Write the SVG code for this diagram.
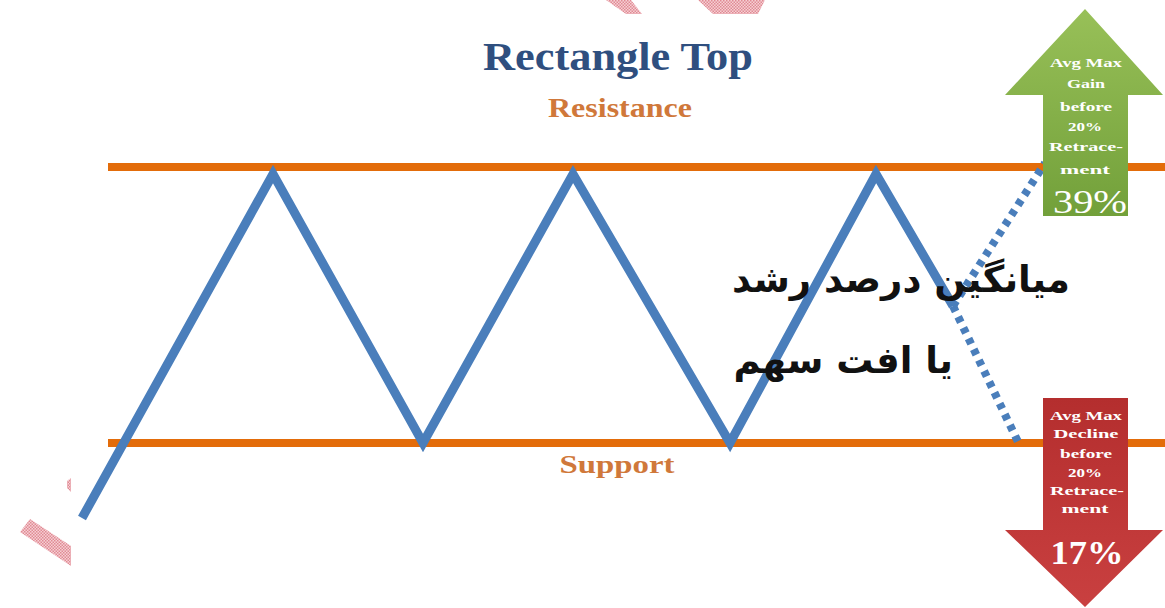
<svg xmlns="http://www.w3.org/2000/svg" width="1165" height="608" viewBox="0 0 1165 608">
<style>
.lvl{stroke:#e36c0a;stroke-width:8;fill:none}
.zig{stroke:#4a7ebb;stroke-width:9;fill:none;stroke-linejoin:miter;stroke-linecap:butt}
.dot{stroke:#4a7ebb;stroke-width:8;fill:none;stroke-dasharray:6 6}
.lbl{font-family:"Liberation Serif",serif;font-weight:bold;fill:#d0783a}
.arr{font-family:"Liberation Serif",serif;font-weight:bold;fill:#ffffff;text-anchor:middle;font-size:13.5px}
.big{font-family:"Liberation Serif",serif;fill:#ffffff;text-anchor:middle;font-size:33px}
.fa{font-family:"DejaVu Sans",sans-serif;font-weight:bold;fill:#111111;font-size:37px}
.wm{fill:url(#hatch)}
</style>
<defs>
<pattern id="hatch" width="3" height="3" patternUnits="userSpaceOnUse">
<rect width="3" height="3" fill="#f6d0d4"/>
<rect width="1.5" height="1.5" fill="#e08a94"/>
<rect x="1.5" y="1.5" width="1.5" height="1.5" fill="#e08a94"/>
</pattern>
<linearGradient id="gUp" x1="0" y1="0" x2="0" y2="1">
<stop offset="0" stop-color="#98c058"/>
<stop offset="1" stop-color="#72a03a"/>
</linearGradient>
<linearGradient id="gDn" x1="0" y1="0" x2="0" y2="1">
<stop offset="0" stop-color="#b42e2e"/>
<stop offset="1" stop-color="#c94040"/>
</linearGradient>
</defs>
<rect width="1165" height="608" fill="#ffffff"/>

<g id="watermark">
<polygon class="wm" points="606,0 631,0 642,14 626,14"/>
<polygon class="wm" points="698,0 765,0 758,14 713,14"/>
<polygon class="wm" points="30,519 71,546 71,566 20,532"/>
<polygon class="wm" points="67,481 71,478 71,492 67,488"/>
</g>

<g id="title">
<text x="618" y="70" text-anchor="middle" font-family="Liberation Serif, serif" font-weight="bold" font-size="41" fill="#2f4f7f" textLength="270" lengthAdjust="spacingAndGlyphs">Rectangle Top</text>
</g>

<g id="resistance">
<line class="lvl" x1="108" y1="167" x2="1165" y2="167"/>
<text class="lbl" x="620" y="117" text-anchor="middle" font-size="27" textLength="144" lengthAdjust="spacingAndGlyphs">Resistance</text>
</g>

<g id="support">
<line class="lvl" x1="108" y1="443" x2="1165" y2="443"/>
<text class="lbl" x="617" y="473" text-anchor="middle" font-size="26" textLength="115" lengthAdjust="spacingAndGlyphs">Support</text>
</g>

<g id="connectors">
<polyline class="zig" points="82,518 273,174 423,443 573,174 730,443 876,174 953,306"/>
<line class="dot" x1="953" y1="306" x2="1020" y2="446"/>
<line class="dot" x1="953" y1="306" x2="1045" y2="163"/>
</g>

<g id="gain-arrow">
<polygon fill="url(#gUp)" points="1085,9 1163,95 1128,95 1128,216 1043,216 1043,95 1005,95"/>
<text class="arr" x="1086" y="67" textLength="72" lengthAdjust="spacingAndGlyphs">Avg Max</text>
<text class="arr" x="1086" y="88" textLength="38" lengthAdjust="spacingAndGlyphs">Gain</text>
<text class="arr" x="1086" y="111" textLength="52" lengthAdjust="spacingAndGlyphs">before</text>
<text class="arr" x="1085" y="131" textLength="34" lengthAdjust="spacingAndGlyphs">20%</text>
<text class="arr" x="1086" y="151" textLength="74" lengthAdjust="spacingAndGlyphs">Retrace-</text>
<text class="arr" x="1085" y="174" textLength="50" lengthAdjust="spacingAndGlyphs">ment</text>
<text class="big" x="1090" y="213" textLength="74" lengthAdjust="spacingAndGlyphs">39%</text>
</g>

<g id="decline-arrow">
<polygon fill="url(#gDn)" points="1043,398 1128,398 1128,530 1163,530 1085,607 1005,530 1043,530"/>
<text class="arr" x="1086" y="420" textLength="72" lengthAdjust="spacingAndGlyphs">Avg Max</text>
<text class="arr" x="1086" y="438" textLength="65" lengthAdjust="spacingAndGlyphs">Decline</text>
<text class="arr" x="1086" y="458" textLength="52" lengthAdjust="spacingAndGlyphs">before</text>
<text class="arr" x="1085" y="477" textLength="34" lengthAdjust="spacingAndGlyphs">20%</text>
<text class="arr" x="1087" y="495" textLength="74" lengthAdjust="spacingAndGlyphs">Retrace-</text>
<text class="arr" x="1085" y="513" textLength="47" lengthAdjust="spacingAndGlyphs">ment</text>
<text class="big" x="1087" y="564" font-weight="bold" textLength="73" lengthAdjust="spacingAndGlyphs">17%</text>
</g>

<g id="persian-label">
<text class="fa" x="1070" y="292" text-anchor="end">میانگین درصد رشد</text>
<text class="fa" x="953" y="373" text-anchor="end">یا افت سهم</text>
</g>
</svg>
